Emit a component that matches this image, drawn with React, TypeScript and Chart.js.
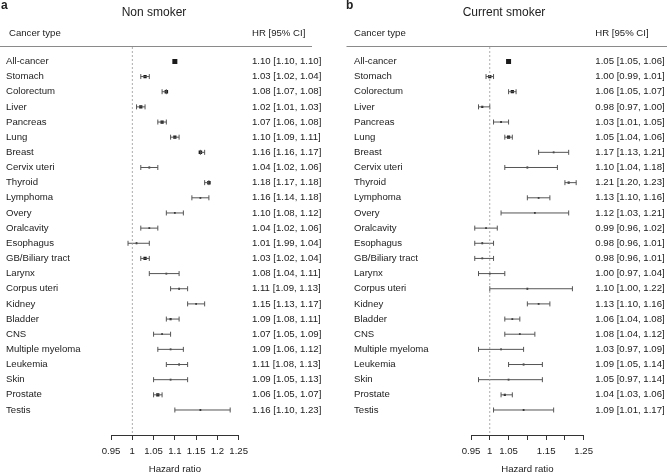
import React, { useEffect, useRef } from 'react';
import { Chart, registerables } from 'chart.js';

Chart.register(...registerables);

const FONT = '"Liberation Sans", Arial, Helvetica, sans-serif';

const cancerTypes = [
  'All-cancer', 'Stomach', 'Colorectum', 'Liver', 'Pancreas', 'Lung', 'Breast',
  'Cervix uteri', 'Thyroid', 'Lymphoma', 'Overy', 'Oralcavity', 'Esophagus',
  'GB/Biliary tract', 'Larynx', 'Corpus uteri', 'Kidney', 'Bladder', 'CNS',
  'Multiple myeloma', 'Leukemia', 'Skin', 'Prostate', 'Testis',
];

// Non smoker
const nonHR = [1.10, 1.03, 1.08, 1.02, 1.07, 1.10, 1.16, 1.04, 1.18, 1.16, 1.10, 1.04, 1.01, 1.03, 1.08, 1.11, 1.15, 1.09, 1.07, 1.09, 1.11, 1.09, 1.06, 1.16];
const nonLo = [1.10, 1.02, 1.07, 1.01, 1.06, 1.09, 1.16, 1.02, 1.17, 1.14, 1.08, 1.02, 0.99, 1.02, 1.04, 1.09, 1.13, 1.08, 1.05, 1.06, 1.08, 1.05, 1.05, 1.10];
const nonHi = [1.10, 1.04, 1.08, 1.03, 1.08, 1.11, 1.17, 1.06, 1.18, 1.18, 1.12, 1.06, 1.04, 1.04, 1.11, 1.13, 1.17, 1.11, 1.09, 1.12, 1.13, 1.13, 1.07, 1.23];
const nonLabels = [
  '1.10 [1.10, 1.10]', '1.03 [1.02, 1.04]', '1.08 [1.07, 1.08]', '1.02 [1.01, 1.03]',
  '1.07 [1.06, 1.08]', '1.10 [1.09, 1.11]', '1.16 [1.16, 1.17]', '1.04 [1.02, 1.06]',
  '1.18 [1.17, 1.18]', '1.16 [1.14, 1.18]', '1.10 [1.08, 1.12]', '1.04 [1.02, 1.06]',
  '1.01 [1.99, 1.04]', '1.03 [1.02, 1.04]', '1.08 [1.04, 1.11]', '1.11 [1.09, 1.13]',
  '1.15 [1.13, 1.17]', '1.09 [1.08, 1.11]', '1.07 [1.05, 1.09]', '1.09 [1.06, 1.12]',
  '1.11 [1.08, 1.13]', '1.09 [1.05, 1.13]', '1.06 [1.05, 1.07]', '1.16 [1.10, 1.23]',
];

// Current smoker
const curHR = [1.05, 1.00, 1.06, 0.98, 1.03, 1.05, 1.17, 1.10, 1.21, 1.13, 1.12, 0.99, 0.98, 0.98, 1.00, 1.10, 1.13, 1.06, 1.08, 1.03, 1.09, 1.05, 1.04, 1.09];
const curLo = [1.05, 0.99, 1.05, 0.97, 1.01, 1.04, 1.13, 1.04, 1.20, 1.10, 1.03, 0.96, 0.96, 0.96, 0.97, 1.00, 1.10, 1.04, 1.04, 0.97, 1.05, 0.97, 1.03, 1.01];
const curHi = [1.06, 1.01, 1.07, 1.00, 1.05, 1.06, 1.21, 1.18, 1.23, 1.16, 1.21, 1.02, 1.01, 1.01, 1.04, 1.22, 1.16, 1.08, 1.12, 1.09, 1.14, 1.14, 1.06, 1.17];
const curLabels = [
  '1.05 [1.05, 1.06]', '1.00 [0.99, 1.01]', '1.06 [1.05, 1.07]', '0.98 [0.97, 1.00]',
  '1.03 [1.01, 1.05]', '1.05 [1.04, 1.06]', '1.17 [1.13, 1.21]', '1.10 [1.04, 1.18]',
  '1.21 [1.20, 1.23]', '1.13 [1.10, 1.16]', '1.12 [1.03, 1.21]', '0.99 [0.96, 1.02]',
  '0.98 [0.96, 1.01]', '0.98 [0.96, 1.01]', '1.00 [0.97, 1.04]', '1.10 [1.00, 1.22]',
  '1.13 [1.10, 1.16]', '1.06 [1.04, 1.08]', '1.08 [1.04, 1.12]', '1.03 [0.97, 1.09]',
  '1.09 [1.05, 1.14]', '1.05 [0.97, 1.14]', '1.04 [1.03, 1.06]', '1.09 [1.01, 1.17]',
];

const axisTicks = [0.95, 1, 1.05, 1.1, 1.15, 1.2, 1.25];
const nonTickLabels = ['0.95', '1', '1.05', '1.1', '1.15', '1.2', '1.25'];
const curTickLabels = ['0.95', '1', '1.05', '', '1.15', '', '1.25'];

const Y_MIN = -0.95;
const Y_MAX = 24.65;

type Geom = {
  width: number;
  letter: string;
  letterX: number;
  title: string;
  titleX: number;
  headerX: number;
  padLeft: number;
  leftAxisW: number;
  rightAxisW: number;
  hrGap: number;
  lineX0: number;
  lineX1: number;
};

function Panel(props: {
  geom: Geom;
  hr: number[];
  lo: number[];
  hi: number[];
  labels: string[];
  tickLabels: string[];
}) {
  const ref = useRef<HTMLCanvasElement | null>(null);
  const { geom, hr, lo, hi, labels, tickLabels } = props;

  useEffect(() => {
    if (!ref.current) return;
    const header = {
      id: 'header',
      afterDraw(chart: any) {
        const ctx = chart.ctx;
        ctx.save();
        ctx.fillStyle = '#222';
        ctx.textAlign = 'left';
        ctx.textBaseline = 'alphabetic';
        ctx.font = `bold 12px ${FONT}`;
        ctx.fillText(geom.letter, geom.letterX, 8.5);
        ctx.font = `12px ${FONT}`;
        ctx.textAlign = 'center';
        ctx.textBaseline = 'middle';
        ctx.fillText(geom.title, geom.titleX, 13);
        ctx.font = `9.6px ${FONT}`;
        ctx.textAlign = 'left';
        ctx.fillText('Cancer type', geom.headerX, 33.5);
        const hrX = chart.chartArea.right + geom.hrGap;
        ctx.fillText('HR [95% CI]', hrX, 33.5);
        ctx.strokeStyle = '#8a8a8a';
        ctx.lineWidth = 1;
        ctx.beginPath();
        ctx.moveTo(geom.lineX0, 46.5);
        ctx.lineTo(geom.lineX1, 46.5);
        ctx.stroke();
        ctx.restore();
      },
    };

    const rows = cancerTypes.map((_, i) => i);
    const ciData: any[] = [];
    const capData: any[] = [];
    rows.forEach((i) => {
      if (i === 0) return;
      ciData.push({ x: lo[i], y: i }, { x: hi[i], y: i }, { x: hi[i], y: null });
      capData.push({ x: lo[i], y: i }, { x: hi[i], y: i });
    });
    const markerData = rows.map((i) => ({ x: hr[i], y: i, w: hi[i] - lo[i] }));

    const chart = new Chart(ref.current, {
      type: 'scatter',
      data: {
        datasets: [
          {
            type: 'line',
            data: [{ x: 1, y: Y_MIN }, { x: 1, y: Y_MAX }],
            borderColor: '#9a9a9a',
            borderWidth: 0.8,
            borderDash: [2, 2],
            pointRadius: 0,
          } as any,
          {
            type: 'line',
            data: ciData,
            borderColor: '#555',
            borderWidth: 1,
            pointRadius: 0,
            spanGaps: false,
          } as any,
          {
            type: 'scatter',
            data: capData,
            pointStyle: 'line',
            rotation: 90,
            radius: 2.5,
            borderColor: '#555',
            borderWidth: 1,
          } as any,
          {
            type: 'scatter',
            data: markerData,
            pointStyle: 'rect',
            radius: (c: any) => {
              if (c.dataIndex === 0) return 5 / Math.SQRT2;
              const w = c.raw ? c.raw.w : 0.05;
              const side = Math.max(1.8, Math.min(3.5, 0.065 / Math.max(w, 0.001)));
              return side / Math.SQRT2;
            },
            backgroundColor: '#1a1a1a',
            borderWidth: 0,
          } as any,
        ],
      },
      options: {
        responsive: false,
        maintainAspectRatio: false,
        animation: false,
        events: [],
        layout: { padding: { left: geom.padLeft, top: 47, right: 0, bottom: 0 } },
        plugins: { legend: { display: false }, tooltip: { enabled: false }, title: { display: false } },
        scales: {
          x: {
            type: 'linear',
            position: 'bottom',
            min: 0.95,
            max: 1.25,
            afterBuildTicks: (s: any) => {
              s.ticks = axisTicks.map((v) => ({ value: v }));
            },
            afterFit: (s: any) => {
              s.height = 39;
            },
            ticks: {
              autoSkip: false,
              maxRotation: 0,
              padding: 6,
              color: '#222',
              font: { family: FONT, size: 9.6 },
              callback: (_v: any, i: number) => tickLabels[i],
            },
            grid: { drawOnChartArea: false, drawTicks: true, tickLength: 5, color: '#333', lineWidth: 1 },
            border: { display: true, color: '#333', width: 1 },
            title: {
              display: true,
              text: 'Hazard ratio',
              color: '#222',
              font: { family: FONT, size: 9.6, lineHeight: 0.9 },
              padding: { top: 0, bottom: 0 },
            },
          },
          y: {
            type: 'linear',
            position: 'left',
            reverse: true,
            min: Y_MIN,
            max: Y_MAX,
            afterBuildTicks: (s: any) => {
              s.ticks = cancerTypes.map((_, i) => ({ value: i }));
            },
            afterFit: (s: any) => {
              s.width = geom.leftAxisW;
            },
            ticks: {
              autoSkip: false,
              crossAlign: 'far',
              padding: 0,
              color: '#222',
              font: { family: FONT, size: 9.6 },
              callback: (_v: any, i: number) => cancerTypes[i],
            },
            grid: { display: false, drawTicks: false },
            border: { display: false },
          },
          y2: {
            type: 'linear',
            position: 'right',
            reverse: true,
            min: Y_MIN,
            max: Y_MAX,
            afterBuildTicks: (s: any) => {
              s.ticks = cancerTypes.map((_, i) => ({ value: i }));
            },
            afterFit: (s: any) => {
              s.width = geom.rightAxisW;
            },
            ticks: {
              autoSkip: false,
              crossAlign: 'near',
              padding: geom.hrGap,
              color: '#222',
              font: { family: FONT, size: 9.6 },
              callback: (_v: any, i: number) => labels[i],
            },
            grid: { display: false, drawTicks: false },
            border: { display: false },
          },
        },
      } as any,
      plugins: [header],
    });
    return () => chart.destroy();
  }, []);

  return (
    <canvas
      ref={ref}
      width={geom.width}
      height={474}
      style={{ display: 'block', width: geom.width, height: 474 }}
    />
  );
}

const leftGeom: Geom = {
  width: 333,
  letter: 'a',
  letterX: 1,
  title: 'Non smoker',
  titleX: 154,
  headerX: 9,
  padLeft: 6,
  leftAxisW: 105,
  rightAxisW: 94.3,
  hrGap: 13.3,
  lineX0: 0,
  lineX1: 312,
};

const rightGeom: Geom = {
  width: 334,
  letter: 'b',
  letterX: 13,
  title: 'Current smoker',
  titleX: 171,
  headerX: 21,
  padLeft: 21,
  leftAxisW: 117,
  rightAxisW: 83.3,
  hrGap: 11.6,
  lineX0: 13.5,
  lineX1: 334,
};

export default function App() {
  useEffect(() => {
    document.body.style.margin = '0';
  }, []);
  return (
    <div style={{ display: 'flex', width: 667, height: 474, background: '#fff' }}>
      <Panel geom={leftGeom} hr={nonHR} lo={nonLo} hi={nonHi} labels={nonLabels} tickLabels={nonTickLabels} />
      <Panel geom={rightGeom} hr={curHR} lo={curLo} hi={curHi} labels={curLabels} tickLabels={curTickLabels} />
    </div>
  );
}
